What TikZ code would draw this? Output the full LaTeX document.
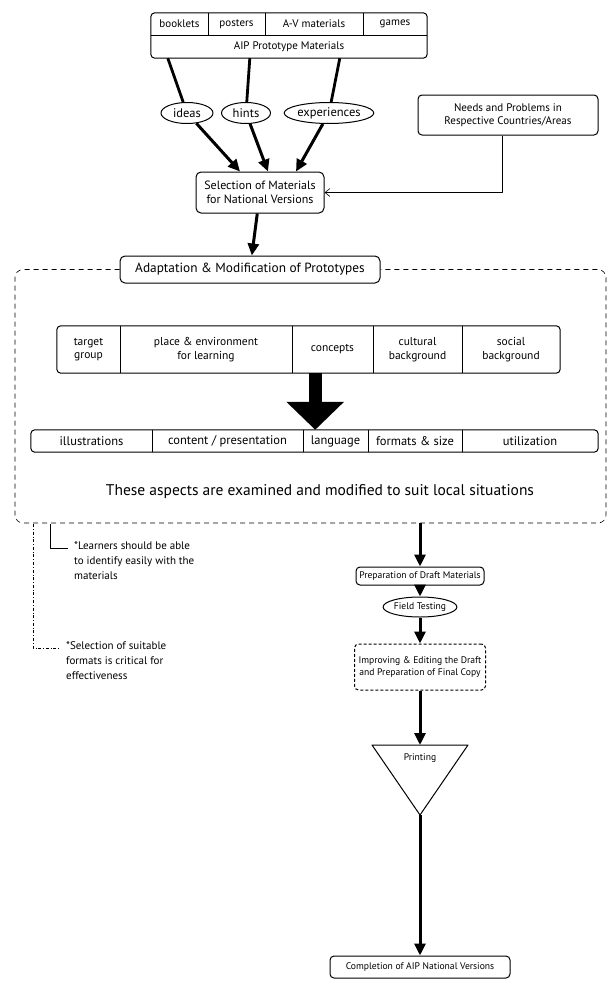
\documentclass[tikz,border=0pt]{standalone}
\usepackage{fontspec}
\setmainfont{PT Sans}
\usetikzlibrary{arrows.meta,shapes.geometric,calc}

\begin{document}
\begin{tikzpicture}[x=1pt,y=-1pt,line join=round,
    every node/.style={font=\fontsize{11}{12.5}\selectfont},
    cell/.style={inner sep=0pt,align=center},
    box/.style={draw,line width=1pt,rounded corners=4pt,align=center,inner sep=2pt},
    oval/.style={draw,ellipse,line width=1pt,inner sep=0pt,minimum height=21pt,font=\fontsize{12.5}{14}\selectfont},
    frame/.style={line width=1pt,rounded corners=4pt},
    rule/.style={line width=0.6pt},
    link/.style={line width=2.8pt},
    heavy/.style={line width=3pt,-{Triangle[length=12pt,width=11pt]}},
    block/.style={line width=13pt,-{Triangle[length=28pt,width=56pt]}},
    small/.style={font=\fontsize{9.6}{11.5}\selectfont},
    note/.style={align=left,inner sep=0pt,font=\fontsize{11}{15}\selectfont}]
  \useasboundingbox (0,0) rectangle (608,1004);

  % prototype materials
  \foreach \n/\t/\x/\w in {booklets/booklets/179.5/57,posters/posters/236.5/57,avmat/A-V materials/314/98,games/games/395/64}
    \node[cell,minimum width=\w pt,minimum height=22pt] (\n) at (\x,24) {\t};
  \node[cell,minimum width=276pt,minimum height=23pt] (protos) at (289,46.5) {AIP Prototype Materials};
  \draw[frame] (booklets.north west) rectangle (protos.south east);
  \draw[rule] (booklets.south west) -- (games.south east);
  \foreach \n in {booklets,posters,avmat}
    \draw[rule] (\n.north east) -- (\n.south east);

  \node[oval,minimum width=52pt] (ideas) at (187,113) {ideas};
  \node[oval,minimum width=49pt] (hints) at (246,113) {hints};
  \node[oval,minimum width=88pt] (exper) at (329,113) {experiences};
  \node[box,minimum width=180pt,minimum height=40pt] (needs) at (508,115) {Needs and Problems in\\Respective Countries/Areas};
  \node[box,rounded corners=5pt,minimum width=128pt,minimum height=41pt,font=\fontsize{12}{14}\selectfont] (sel) at (260,192.5) {Selection of Materials\\for National Versions};

  \draw[link] ($(protos.south west)+(17,0)$) -- (ideas);
  \draw[link] ($(protos.south west)+(99,0)$) -- (hints);
  \draw[link] ($(protos.south west)+(189,0)$) -- (exper);
  \draw[heavy] (ideas) -- ($(sel.north)+(-20,0)$);
  \draw[heavy] (hints) -- ($(sel.north)+(8,0)$);
  \draw[heavy] (exper) -- ($(sel.north)+(36,0)$);
  \draw[rule,-{Straight Barb[length=5pt,width=8pt]}] ($(needs.south)+(-6,0)$) |- (sel.east);

  % adaptation stage
  \node[box,rounded corners=5pt,minimum width=260pt,minimum height=27pt,font=\fontsize{13.3}{15}\selectfont] (adapt) at (250,269.5) {Adaptation \& Modification of Prototypes};
  \draw[heavy] (sel) -- (adapt);
  \coordinate (fr-sw) at (15,523);
  \coordinate (fr-ne) at (606,269.5);
  \draw[rule,dashed,dash pattern=on 5pt off 4pt,rounded corners=8pt] (adapt.west) -| (fr-sw) -| (fr-ne) -- (adapt.east);

  \foreach \n/\t/\x/\w in {target/{target\\group}/88.5/63,place/{place \& environment\\for learning}/206/172,concepts/concepts/332.5/81,cultural/{cultural\\background}/417.5/89,social/{social\\background}/511/98}
    \node[cell,minimum width=\w pt,minimum height=47pt,font=\fontsize{11.5}{13.5}\selectfont] (\n) at (\x,349.5) {\t};
  \draw[frame] (target.north west) rectangle (social.south east);
  \foreach \n in {target,place,concepts,cultural}
    \draw[rule] (\n.north east) -- (\n.south east);

  \foreach \n/\t/\x/\w in {illus/illustrations/91.5/121,content/{content / presentation}/227.5/151,lang/language/335.5/65,formats/{formats \& size}/415/94,util/utilization/530/136}
    \node[cell,minimum width=\w pt,minimum height=22pt,font=\fontsize{12.5}{14}\selectfont] (\n) at (\x,441) {\t};
  \draw[frame] (illus.north west) rectangle (util.south east);
  \foreach \n in {illus,content,lang,formats}
    \draw[rule] (\n.north east) -- (\n.south east);

  \coordinate (drop) at ($(content.north east)+(12,0)$);
  \draw[block] (drop |- concepts.south) -- (drop);
  \node[font=\fontsize{15.5}{17}\selectfont] (aspects) at (320,492) {These aspects are examined and modified to suit local situations};

  % side notes
  \coordinate (learn-out) at (50,524);
  \coordinate (learn-in) at (68,548);
  \node[note,anchor=north west] (learn) at ($(learn-in)+(6,-7)$) {*Learners should be able\\to identify easily with the\\materials};
  \draw[rule] (learn-out) |- (learn-in);
  \coordinate (suit-out) at (33,524);
  \coordinate (suit-in) at (60,648);
  \node[note,anchor=north west] (suit) at ($(suit-in)+(6,-7)$) {*Selection of suitable\\formats is critical for\\effectiveness};
  \draw[rule,dash dot] (suit-out) |- (suit-in);

  % production steps
  \node[box,small,minimum width=128pt,minimum height=18pt] (prep) at (420,576) {Preparation of Draft Materials};
  \node[oval,small,minimum width=68pt,minimum height=20pt] (field) at (420,607) {Field Testing};
  \node[box,small,densely dashed,minimum width=131pt,minimum height=46pt] (impr) at (420,667) {Improving \& Editing the Draft\\and Preparation of Final Copy};
  \node[small] (print) at (420,758) {Printing};
  \coordinate (print-top) at (420,745);
  \coordinate (print-tip) at (420,815);
  \draw[frame,rounded corners=0pt] (print-tip) -- (372,745) -- (468,745) -- cycle;
  \node[box,small,minimum width=180pt,minimum height=22pt] (done) at (420,967) {Completion of AIP National Versions};

  \draw[heavy] (prep.north |- fr-sw) -- (prep);
  \draw[heavy] (prep) -- (field);
  \draw[heavy] (field) -- (impr);
  \draw[heavy] (impr) -- (print-top);
  \draw[heavy] (print-tip) -- (done);
\end{tikzpicture}
\end{document}
